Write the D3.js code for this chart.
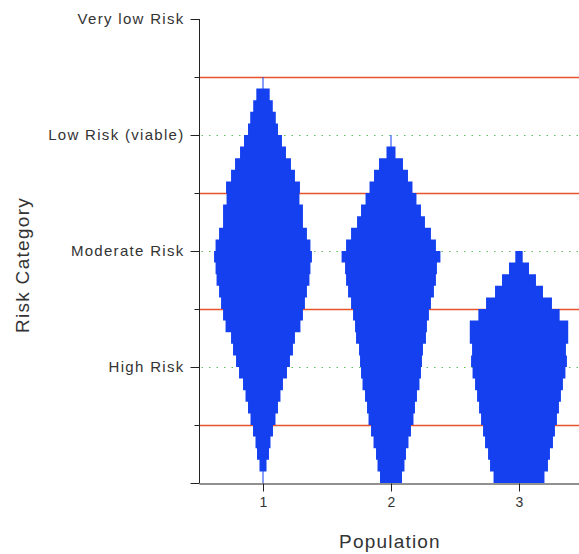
<!DOCTYPE html>
<html>
<head>
<meta charset="utf-8">
<script src="https://cdn.jsdelivr.net/npm/d3@7"></script>
<style>
  html, body { margin: 0; padding: 0; background: #fff; }
  svg { display: block; }
  text { font-family: "Liberation Sans", Arial, sans-serif; fill: #333; }
</style>
</head>
<body>
<svg id="chart" width="579" height="554"></svg>
<script>
// Risk categories on the y axis (value -> label)
const riskValues = [1, 2, 3, 4];
const riskLabels = ["High Risk", "Moderate Risk", "Low Risk (viable)", "Very low Risk"];
// Category boundaries (drawn as red reference lines)
const boundaries = [0.5, 1.5, 2.5, 3.5];
// Populations on the x axis
const populations = [1, 2, 3];
// Histogram bin size along the risk scale; bins start at 0
const binSize = 0.1;
// Frequency per bin (per mille of simulations), bottom bin first
const pop1Counts = [0.5, 3.5, 6, 7.5, 10, 12.5, 15, 17.5, 20, 24, 27, 30, 32, 37.5, 40, 42, 44, 46.5, 47.5, 49,
                    47.5, 44, 40, 40, 36.5, 37, 32, 28, 23, 19, 15, 12.8, 9.8, 6.7, 0.5];
const pop2Counts = [11, 13.5, 15, 17.5, 20, 22.5, 24, 26, 28.5, 30, 31, 32, 35, 36, 38, 40, 43, 45, 46, 49.5,
                    45, 40, 34, 30, 25.5, 21.5, 17, 12, 4.5, 0.5];
const pop3Counts = [25.5, 29, 31, 34, 36, 38, 40, 42, 44, 46.5, 48, 47, 49.3, 49.3, 40.7, 33, 24, 17, 10, 3.7];
const seriesCounts = [pop1Counts, pop2Counts, pop3Counts];

const svg = d3.select("#chart");
const W = 579, H = 554;

const x = d3.scaleLinear().domain([0.5, 3.5]).range([199, 583]);
const y = d3.scaleLinear().domain([0, 4]).range([483, 19]);
// half-width of a violin bin, in population units
const halfWidth = d3.scaleLinear().domain([0, 50]).range([0, 0.39]);

const axisX = 199.5;

// Reference lines: category levels (green dotted) and boundaries (red)
svg.append("g").selectAll("line").data(riskValues.filter(v => v < 4)).join("line")
  .attr("x1", axisX + 2).attr("x2", W)
  .attr("y1", d => Math.round(y(d)) + 0.5).attr("y2", d => Math.round(y(d)) + 0.5)
  .attr("stroke", "#5cc25c").attr("stroke-width", 1.2)
  .attr("stroke-dasharray", "1.5,6");

svg.append("g").selectAll("line").data(boundaries).join("line")
  .attr("x1", axisX).attr("x2", W)
  .attr("y1", d => Math.round(y(d)) + 0.5).attr("y2", d => Math.round(y(d)) + 0.5)
  .attr("stroke", "#e8532c").attr("stroke-width", 1.3);

// Stepped violins: outline built from the histogram bins
// (right side bottom-to-top, then left side top-to-bottom)
const line = d3.line().x(d => d[0]).y(d => d[1]);
populations.forEach((p, i) => {
  const counts = seriesCounts[i];
  const w = c => Math.max(0.5, x(p + halfWidth(c)) - x(p));
  const cx = x(p);
  const right = [], left = [];
  counts.forEach((c, k) => {
    const lo = y(k * binSize), hi = y((k + 1) * binSize);
    right.push([cx + w(c), lo], [cx + w(c), hi]);
    left.push([cx - w(c), lo], [cx - w(c), hi]);
  });
  const outline = right.concat(left.reverse());
  svg.append("path")
    .attr("d", line(outline) + "Z")
    .attr("fill", "#1440f0");
});

// Y axis
const yAxis = svg.append("g").attr("transform", `translate(${axisX},0)`);
yAxis.append("line")
  .attr("x1", 0).attr("x2", 0).attr("y1", y(4)).attr("y2", y(0))
  .attr("stroke", "#222");
const yTicks = [0, 0.5, 1, 1.5, 2, 2.5, 3, 3.5, 4];
yAxis.selectAll("line.tick").data(yTicks).join("line").attr("class", "tick")
  .attr("x1", d => (Number.isInteger(d) ? -9 : -5)).attr("x2", 0)
  .attr("y1", d => Math.round(y(d)) + 0.5).attr("y2", d => Math.round(y(d)) + 0.5)
  .attr("stroke", "#222");
yAxis.selectAll("text").data(riskValues).join("text")
  .attr("x", -15).attr("y", d => y(d) + 5)
  .attr("text-anchor", "end")
  .style("font-size", "15px").style("letter-spacing", "1.3px")
  .text((d, i) => riskLabels[i]);

// X axis
const xAxis = svg.append("g").attr("transform", `translate(0,${Math.round(y(0)) + 0.5})`)
  .call(d3.axisBottom(x).tickValues(populations).tickFormat(d3.format("d")).tickSize(8).tickSizeOuter(0));
xAxis.select(".domain").attr("stroke", "#222");
xAxis.selectAll(".tick line").attr("stroke", "#222");
xAxis.selectAll(".tick text")
  .attr("y", 14).attr("dy", "0.71em")
  .style("font-size", "14px").style("fill", "#333")
  .style("font-family", "'Liberation Sans', Arial, sans-serif");

// Axis titles
svg.append("text")
  .attr("x", 390).attr("y", 548)
  .attr("text-anchor", "middle")
  .style("font-size", "19px").style("letter-spacing", "1.2px")
  .text("Population");

svg.append("text")
  .attr("transform", "translate(29,265) rotate(-90)")
  .attr("text-anchor", "middle")
  .style("font-size", "19px").style("letter-spacing", "1.3px")
  .text("Risk Category");
</script>
</body>
</html>
